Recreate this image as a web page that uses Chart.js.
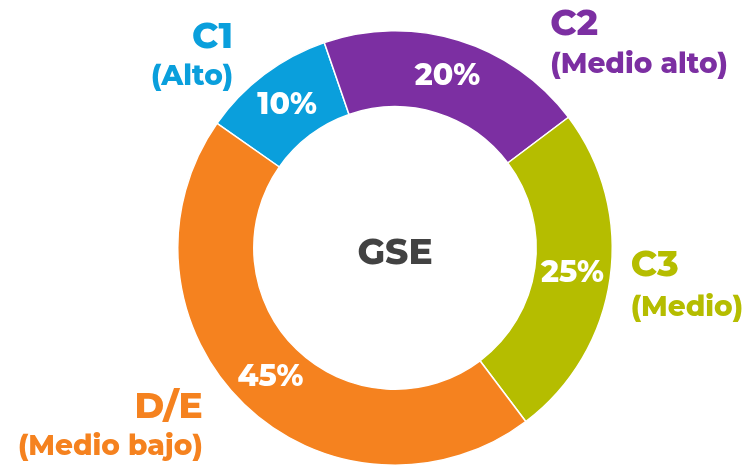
<!DOCTYPE html>
<html>
<head>
<meta charset="utf-8">
<script src="https://cdn.jsdelivr.net/npm/chart.js@4.4.1/dist/chart.umd.min.js"></script>
<style>
    html, body { margin: 0; padding: 0; background: #ffffff; }
    #wrap { width: 746px; height: 468px; position: relative; }
</style>
</head>
<body>
<div id="wrap"><canvas id="gse"></canvas></div>
<script>
const categories = ['C1', 'C2', 'C3', 'D/E'];
const subLabels = ['(Alto)', '(Medio alto)', '(Medio)', '(Medio bajo)'];
const shares = [10, 20, 25, 45];
const sliceColors = ['#0a9fdc', '#7c2fa2', '#b5bd00', '#f5821f'];
const centerTitle = 'GSE';

const FONT = "'Montserrat', 'DejaVu Sans', sans-serif";

// where the outer names sit, relative to the ring centre, in units of the outer radius
const namePlacement = [
    { dx: -0.745, dy: -0.97, dy2: -0.79, align: 'right' },
    { dx: 0.715, dy: -1.03, dy2: -0.845, align: 'left' },
    { dx: 1.085, dy: 0.08, dy2: 0.275, align: 'left' },
    { dx: -0.885, dy: 0.735, dy2: 0.915, align: 'right' }
];

const labelPlugin = {
    id: 'gseLabels',
    afterDatasetsDraw(chart) {
        const ctx = chart.ctx;
        const meta = chart.getDatasetMeta(0);
        const arc0 = meta.data[0];
        const cx = arc0.x, cy = arc0.y, R = arc0.outerRadius;

        ctx.save();
        ctx.textBaseline = 'middle';

        // percentages inside the ring
        ctx.fillStyle = '#ffffff';
        ctx.textAlign = 'center';
        ctx.font = "800 30px " + FONT;
        meta.data.forEach((arc, i) => {
            const p = arc.tooltipPosition();
            ctx.fillText(shares[i] + '%', p.x, p.y);
        });

        // category names around the ring
        categories.forEach((name, i) => {
            const pl = namePlacement[i];
            ctx.fillStyle = sliceColors[i];
            ctx.textAlign = pl.align;
            ctx.font = "800 36px " + FONT;
            ctx.fillText(name, cx + pl.dx * R, cy + pl.dy * R);
            ctx.font = "800 28px " + FONT;
            ctx.fillText(subLabels[i], cx + pl.dx * R, cy + pl.dy2 * R);
        });

        // centre title
        ctx.fillStyle = '#424242';
        ctx.textAlign = 'center';
        ctx.font = "800 36px " + FONT;
        ctx.fillText(centerTitle, cx, cy + 5);
        ctx.restore();
    }
};

new Chart(document.getElementById('gse'), {
    type: 'doughnut',
    data: {
        labels: categories,
        datasets: [{
            data: shares,
            backgroundColor: sliceColors,
            borderColor: '#ffffff',
            borderWidth: 1.5
        }]
    },
    options: {
        responsive: true,
        maintainAspectRatio: false,
        animation: false,
        rotation: -55,
        cutout: '65%',
        layout: {
            padding: { left: 177, right: 133, top: 30, bottom: 2 }
        },
        plugins: {
            legend: { display: false },
            tooltip: { enabled: false }
        }
    },
    plugins: [labelPlugin]
});
</script>
</body>
</html>
